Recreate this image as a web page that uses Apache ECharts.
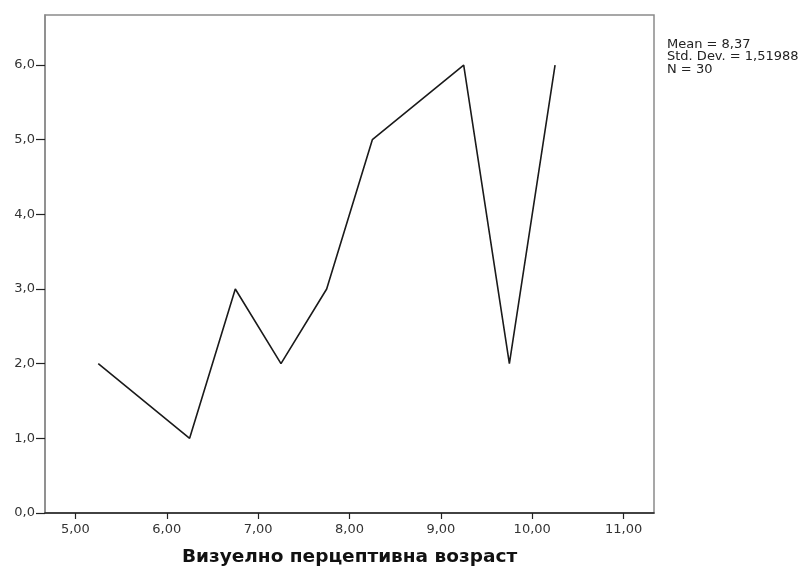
<!DOCTYPE html>
<html>
<head>
<meta charset="utf-8">
<script src="https://cdn.jsdelivr.net/npm/echarts@6/dist/echarts.min.js"></script>
<style>
  html, body { margin: 0; padding: 0; background: #fff; }
  #chart { width: 811px; height: 566px; }
</style>
</head>
<body>
<div id="chart"></div>
<script>
// Frequency polygon: midpoints of age classes and their counts
const ageMidpoints = [5.25, 6.25, 6.75, 7.25, 7.75, 8.25, 9.25, 9.75, 10.25];
const frequencies  = [2, 1, 3, 2, 3, 5, 6, 2, 6];
const xTicks = [5, 6, 7, 8, 9, 10, 11];
const yTicks = [0, 1, 2, 3, 4, 5, 6];
const statsLines = ['Mean = 8,37', 'Std. Dev. = 1,51988', 'N = 30'];
const xTitle = 'Визуелно перцептивна возраст';

const points = ageMidpoints.map((x, i) => [x, frequencies[i]]);
const fmt = (v, d) => v.toFixed(d).replace('.', ',');
const FONT = 'DejaVu Sans, Verdana, sans-serif';

const chart = echarts.init(document.getElementById('chart'), null, { renderer: 'canvas' });
chart.setOption({
  animation: false,
  backgroundColor: '#ffffff',
  textStyle: { fontFamily: FONT },
  grid: {
    left: 45, right: 157, top: 15, bottom: 53,
    outerBoundsMode: 'none',
    containLabel: false,
    show: true, borderColor: '#8a8a8a', borderWidth: 1.5, backgroundColor: 'transparent'
  },
  graphic: [{
    type: 'text',
    left: 667, top: 38,
    style: {
      text: statsLines.join('\n'),
      font: '13px ' + FONT,
      fill: '#222',
      lineHeight: 12.5
    }
  }],
  xAxis: {
    type: 'value',
    min: 4.667, max: 11.333,
    name: xTitle,
    nameLocation: 'middle',
    nameGap: 35,
    nameTextStyle: { fontSize: 18.5, fontWeight: 'bold', color: '#111', fontFamily: FONT },
    splitLine: { show: false },
    axisLine: { show: true, lineStyle: { color: '#222', width: 1.5 } },
    axisTick: { show: true, length: 6, lineStyle: { color: '#222', width: 1.2 }, customValues: xTicks },
    axisLabel: {
      color: '#333', fontSize: 13, margin: 10,
      customValues: xTicks,
      formatter: v => fmt(v, 2)
    }
  },
  yAxis: {
    type: 'value',
    min: 0, max: 6.67,
    splitLine: { show: false },
    axisLine: { show: true, lineStyle: { color: '#8a8a8a', width: 1.5 } },
    axisTick: { show: true, length: 9, lineStyle: { color: '#222', width: 1.2 }, customValues: yTicks },
    axisLabel: {
      color: '#333', fontSize: 13, margin: 10,
      customValues: yTicks,
      formatter: v => fmt(v, 1)
    }
  },
  series: [{
    type: 'line',
    data: points,
    symbol: 'none',
    lineStyle: { color: '#1a1a1a', width: 1.6 }
  }]
});
</script>
</body>
</html>
